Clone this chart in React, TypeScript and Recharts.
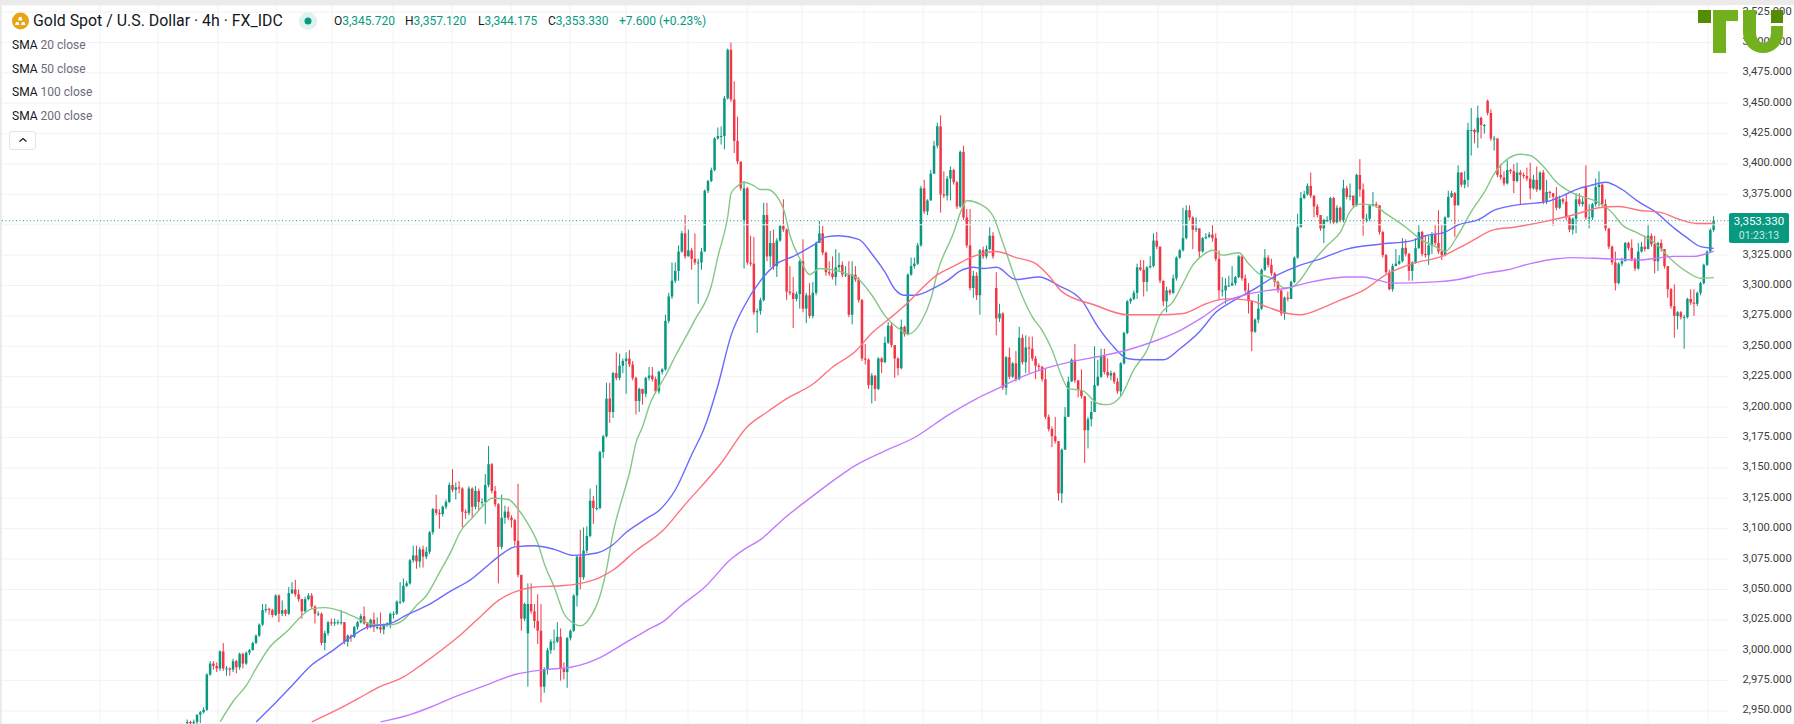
import React from "react";
import { ComposedChart, Bar, Line, XAxis, YAxis, CartesianGrid, ReferenceLine } from "recharts";

const closes = [2941,2940,2941,2947,2949,2951,2980,2989,2987,2985,2999,2985,2985,2984,2991,2986,2997,2989,2998,3000,3006,3012,3021,3033,3034,3033,3029,3045,3030,3033,3030,3047,3050,3046,3042,3032,3042,3045,3036,3030,3030,3006,3014,3023,3022,3023,3023,3023,3007,3012,3011,3019,3023,3028,3022,3019,3025,3019,3019,3017,3021,3022,3030,3030,3040,3040,3053,3055,3074,3078,3073,3083,3077,3081,3097,3116,3113,3112,3118,3122,3136,3132,3134,3133,3114,3113,3133,3118,3131,3122,3122,3136,3153,3131,3120,3085,3109,3114,3109,3107,3090,3062,3026,3038,3038,3032,3024,3016,2970,2984,3000,3007,3007,3011,2985,2982,3010,3016,3045,3077,3060,3082,3094,3123,3117,3117,3163,3176,3207,3196,3228,3224,3234,3238,3240,3235,3224,3205,3215,3211,3224,3226,3223,3213,3229,3231,3271,3291,3304,3312,3328,3343,3324,3329,3322,3319,3319,3328,3378,3386,3395,3421,3423,3423,3454,3494,3453,3419,3402,3380,3380,3319,3318,3278,3279,3288,3358,3324,3335,3316,3337,3349,3346,3295,3294,3289,3293,3320,3281,3292,3275,3294,3335,3343,3327,3311,3310,3307,3315,3317,3309,3309,3276,3309,3305,3288,3240,3239,3218,3226,3215,3240,3237,3253,3267,3251,3240,3232,3266,3260,3309,3316,3318,3333,3380,3361,3370,3392,3415,3431,3375,3374,3388,3395,3385,3365,3410,3356,3333,3298,3308,3292,3329,3324,3330,3341,3324,3273,3277,3216,3241,3225,3236,3223,3257,3237,3249,3248,3240,3234,3233,3223,3192,3182,3176,3172,3129,3165,3192,3221,3239,3222,3214,3209,3181,3190,3196,3218,3225,3242,3229,3226,3228,3221,3213,3236,3261,3287,3289,3294,3315,3313,3303,3315,3316,3337,3332,3304,3287,3296,3294,3306,3323,3329,3339,3362,3356,3346,3347,3328,3339,3340,3342,3339,3322,3296,3296,3300,3300,3302,3307,3324,3306,3296,3287,3262,3272,3281,3313,3323,3317,3310,3303,3296,3277,3290,3289,3303,3323,3348,3372,3375,3382,3374,3365,3358,3347,3354,3354,3372,3352,3364,3354,3380,3373,3374,3366,3391,3379,3355,3355,3366,3367,3366,3344,3325,3311,3297,3316,3318,3320,3331,3326,3312,3319,3331,3344,3326,3325,3333,3342,3335,3328,3325,3356,3373,3376,3366,3393,3383,3387,3428,3428,3426,3438,3432,3432,3442,3421,3421,3391,3389,3384,3395,3394,3386,3393,3391,3390,3388,3380,3387,3379,3393,3369,3377,3376,3373,3364,3371,3369,3356,3346,3355,3371,3367,3369,3356,3356,3367,3381,3383,3367,3347,3332,3319,3302,3318,3320,3335,3331,3322,3314,3328,3332,3330,3341,3334,3320,3335,3330,3316,3297,3283,3275,3278,3274,3274,3289,3286,3285,3294,3302,3317,3328,3345.72,3353.33];
const highs = [2943,2942,2943,2947,2950,2953,2981,2991,2991,2990,3000,3006,2987,2986,2993,2992,2998,2998,2999,3001,3007,3013,3022,3038,3038,3035,3034,3046,3046,3041,3034,3052,3056,3058,3050,3042,3044,3047,3047,3037,3032,3031,3016,3024,3026,3026,3025,3033,3023,3013,3013,3020,3024,3030,3036,3023,3026,3031,3027,3031,3022,3023,3031,3032,3041,3056,3059,3057,3075,3086,3086,3085,3086,3085,3098,3117,3128,3116,3119,3124,3138,3149,3138,3139,3134,3116,3135,3134,3135,3133,3125,3145,3168,3154,3135,3121,3128,3119,3118,3111,3108,3137,3062,3039,3055,3055,3038,3046,3038,2986,3002,3009,3017,3023,3018,2990,3011,3017,3046,3078,3099,3101,3102,3133,3127,3136,3164,3177,3220,3220,3229,3245,3244,3240,3245,3247,3238,3225,3216,3215,3225,3233,3233,3225,3230,3232,3276,3294,3319,3319,3333,3345,3358,3346,3331,3343,3322,3331,3379,3387,3397,3422,3430,3431,3456,3495,3500,3468,3439,3402,3386,3381,3341,3340,3281,3290,3368,3368,3345,3346,3339,3350,3371,3347,3316,3307,3295,3321,3338,3294,3302,3303,3336,3353,3349,3328,3320,3324,3330,3327,3320,3316,3320,3320,3316,3307,3289,3252,3240,3228,3226,3241,3241,3258,3270,3270,3251,3241,3272,3267,3310,3323,3323,3335,3382,3387,3371,3395,3419,3434,3440,3394,3390,3398,3396,3386,3411,3415,3363,3363,3312,3311,3330,3332,3333,3348,3344,3311,3285,3278,3242,3249,3237,3246,3266,3260,3259,3258,3258,3242,3236,3234,3232,3194,3184,3192,3172,3166,3200,3225,3240,3252,3222,3231,3209,3192,3205,3250,3239,3248,3248,3240,3230,3229,3224,3237,3262,3288,3290,3296,3318,3321,3321,3316,3324,3343,3344,3332,3304,3299,3297,3309,3324,3330,3364,3366,3366,3357,3356,3347,3340,3343,3344,3350,3343,3329,3307,3306,3308,3316,3308,3325,3325,3309,3302,3287,3273,3293,3314,3330,3325,3322,3311,3304,3296,3291,3295,3304,3324,3359,3377,3378,3384,3393,3374,3367,3358,3355,3357,3373,3373,3366,3365,3387,3382,3384,3374,3392,3404,3384,3359,3367,3377,3369,3365,3345,3326,3313,3318,3330,3325,3339,3338,3327,3320,3339,3350,3345,3341,3341,3344,3350,3362,3350,3357,3378,3378,3377,3399,3393,3394,3434,3446,3429,3448,3439,3433,3453,3445,3423,3421,3400,3394,3403,3396,3400,3401,3395,3393,3397,3401,3391,3398,3394,3395,3387,3378,3375,3381,3374,3372,3376,3357,3356,3376,3376,3372,3399,3367,3368,3388,3394,3384,3371,3347,3333,3328,3319,3323,3336,3336,3338,3323,3335,3336,3341,3350,3343,3341,3336,3338,3328,3316,3298,3301,3279,3279,3276,3290,3297,3297,3295,3303,3318,3329,3347,3357.12];
const lows = [2939,2939,2939,2939,2940,2948,2950,2979,2984,2982,2983,2983,2979,2979,2982,2981,2984,2985,2988,2996,3000,3005,3011,3020,3031,3029,3027,3028,3023,3028,3028,3029,3046,3044,3040,3026,3031,3041,3034,3022,3028,3004,3000,3012,3020,3020,3021,3021,3005,3003,3007,3010,3017,3022,3021,3017,3018,3015,3017,3014,3013,3019,3018,3026,3029,3038,3039,3052,3054,3072,3067,3068,3068,3075,3079,3095,3111,3100,3110,3116,3121,3130,3124,3129,3101,3108,3111,3109,3116,3115,3119,3104,3134,3129,3118,3055,3083,3104,3107,3101,3086,3060,3016,3024,2970,3030,3018,3005,2957,2965,2980,2997,3000,3006,2975,2976,2969,3008,3015,3036,3050,3058,3080,3093,3104,3115,3116,3158,3175,3187,3191,3222,3222,3228,3211,3233,3222,3194,3196,3202,3208,3222,3221,3211,3211,3227,3230,3269,3289,3302,3304,3327,3322,3325,3313,3317,3285,3313,3329,3376,3385,3394,3420,3416,3412,3453,3451,3409,3400,3378,3314,3317,3316,3276,3261,3276,3287,3320,3315,3313,3307,3336,3344,3288,3292,3265,3287,3281,3278,3269,3273,3273,3292,3335,3325,3308,3308,3305,3300,3312,3307,3307,3274,3268,3303,3286,3238,3235,3215,3203,3205,3214,3228,3236,3252,3249,3224,3226,3231,3258,3259,3308,3314,3317,3332,3359,3358,3371,3393,3413,3360,3372,3370,3370,3383,3363,3364,3354,3331,3296,3290,3288,3276,3322,3322,3329,3322,3259,3270,3214,3210,3223,3224,3221,3222,3235,3228,3228,3238,3223,3230,3221,3190,3180,3167,3170,3123,3121,3165,3192,3221,3220,3208,3207,3154,3166,3184,3206,3217,3224,3227,3224,3222,3219,3211,3209,3235,3260,3285,3288,3289,3312,3291,3295,3314,3315,3330,3302,3283,3278,3292,3293,3304,3322,3328,3338,3354,3330,3344,3323,3327,3338,3339,3336,3320,3288,3291,3285,3299,3300,3300,3306,3304,3294,3277,3246,3261,3269,3280,3312,3315,3308,3299,3294,3275,3272,3287,3296,3302,3322,3348,3371,3374,3372,3356,3356,3345,3335,3352,3351,3350,3351,3352,3352,3371,3370,3364,3365,3373,3341,3352,3353,3365,3364,3342,3323,3309,3296,3295,3316,3317,3319,3324,3304,3304,3318,3330,3324,3323,3317,3326,3333,3326,3321,3324,3356,3372,3340,3366,3381,3380,3381,3407,3417,3413,3421,3425,3440,3419,3411,3389,3387,3382,3383,3392,3376,3385,3367,3388,3386,3371,3379,3377,3378,3367,3367,3372,3349,3362,3363,3367,3354,3344,3342,3343,3365,3365,3354,3347,3354,3365,3365,3365,3345,3330,3317,3296,3301,3316,3322,3329,3320,3312,3313,3327,3328,3330,3332,3310,3312,3328,3314,3290,3281,3257,3264,3272,3248,3273,3284,3275,3283,3292,3301,3316,3327,3344.175];
const openGaps: Record<number, number> = { 0: 2940, 104: 3014, 170: 3354, 247: 3298, 397: 3452, 427: 3382 };

const sma20 = [[10,2941],[14,2958],[18,2971],[21,2985],[25,3002],[31,3017],[33,3023],[38,3034],[42,3035],[47,3032],[53,3025],[57,3021],[62,3021],[66,3025],[70,3037],[73,3045],[77,3064],[81,3084],[83,3096],[87,3109],[90,3118],[93,3125],[98,3124],[101,3116],[104,3104],[107,3088],[109,3071],[112,3052],[115,3030],[118,3022],[120,3020],[123,3027],[126,3045],[128,3067],[130,3097],[133,3127],[135,3146],[137,3171],[139,3184],[141,3201],[146,3226],[149,3242],[155,3272],[160,3300],[162,3324],[165,3357],[166,3376],[168,3382],[170,3385],[173,3382],[175,3379],[177,3379],[182,3363],[184,3341],[187,3322],[190,3309],[193,3314],[200,3311],[205,3305],[209,3292],[213,3275],[218,3263],[220,3260],[224,3270],[227,3289],[229,3311],[234,3344],[236,3360],[238,3370],[242,3367],[246,3357],[249,3335],[253,3304],[258,3274],[261,3263],[264,3247],[267,3225],[269,3215],[273,3214],[278,3203],[281,3202],[285,3209],[289,3231],[293,3247],[297,3276],[301,3287],[304,3302],[307,3317],[310,3325],[313,3329],[316,3325],[321,3327],[324,3318],[327,3310],[331,3306],[335,3298],[338,3300],[344,3321],[348,3333],[352,3344],[355,3361],[358,3367],[362,3366],[366,3359],[372,3348],[376,3339],[381,3332],[384,3328],[388,3342],[392,3361],[396,3377],[399,3392],[403,3404],[407,3408],[410,3407],[414,3398],[418,3385],[423,3376],[431,3368],[435,3360],[438,3350],[443,3343],[448,3335],[454,3319],[458,3311],[462,3306],[466,3306.5]];
const sma50 = [[21,2941],[27,2957],[32,2971],[38,2988],[44,2999],[50,3011],[55,3019],[62,3022],[67,3029],[74,3038],[80,3048],[87,3059],[91,3068],[95,3077],[100,3085],[106,3086],[112,3083],[118,3078],[125,3080],[130,3087],[134,3097],[140,3108],[144,3115],[149,3132],[154,3161],[158,3184],[162,3218],[166,3259],[170,3283],[175,3304],[180,3318],[185,3324],[191,3333],[195,3340],[199,3341],[205,3338],[209,3326],[213,3311],[216,3297],[219,3292],[222,3292],[228,3298],[232,3304],[236,3312],[240,3315],[243,3314],[247,3315],[253,3305],[260,3307],[266,3300],[273,3288],[278,3266],[282,3252],[287,3240],[291,3239],[298,3239],[303,3248],[309,3262],[314,3278],[319,3287],[325,3296],[333,3309],[339,3316],[346,3322],[354,3330],[364,3334],[374,3337],[378,3341],[384,3344],[388,3350],[394,3354],[399,3362],[405,3366],[415,3369],[420,3374],[425,3380],[428,3382],[433,3385],[438,3379],[443,3369],[448,3361],[454,3347],[458,3339],[462,3332],[466,3330.6]];
const sma100 = [[38,2941],[45,2950],[52,2960],[58,2969],[66,2978],[72,2989],[78,3001],[84,3014],[90,3029],[95,3041],[100,3048],[106,3052],[114,3053],[120,3055],[126,3060],[130,3066],[137,3082],[145,3098],[152,3120],[163,3154],[171,3184],[177,3196],[183,3207],[191,3219],[197,3233],[204,3246],[209,3261],[214,3272],[220,3286],[224,3297],[229,3309],[234,3316],[240,3324],[247,3328],[253,3323],[259,3318],[263,3308],[267,3295],[277,3284],[287,3276],[297,3276],[304,3277],[311,3285],[317,3289],[324,3288],[330,3282],[336,3277],[340,3276],[346,3281],[352,3288],[359,3296],[366,3309],[374,3318],[383,3324],[391,3335],[399,3346],[405,3348],[415,3353],[423,3358],[431,3364],[437,3365],[443,3362],[450,3360],[456,3354],[461,3351],[466,3351]];
const sma200 = [[59,2941],[68,2947],[75,2954],[82,2962],[90,2970],[100,2980],[109,2984],[117,2986],[126,2994],[133,3005],[140,3016],[146,3025],[150,3035],[158,3052],[166,3075],[170,3083],[175,3091],[182,3108],[191,3127],[199,3143],[204,3152],[213,3164],[222,3175],[232,3193],[241,3207],[248,3216],[254,3224],[261,3231],[271,3238],[279,3242],[287,3247],[296,3255],[303,3263],[310,3274],[317,3287],[324,3293],[330,3296],[336,3298],[340,3301],[345,3304],[354,3307],[359,3307],[364,3304],[368,3302],[381,3303],[388,3305],[396,3310],[403,3313],[410,3318],[418,3322],[423,3323],[433,3322],[443,3321],[454,3324],[460,3324],[464,3326.5],[466,3328.4]];

const priceTicks = [2950,2975,3000,3025,3050,3075,3100,3125,3150,3175,3200,3225,3250,3275,3300,3325,3375,3400,3425,3450,3475,3500,3525];
const hiddenGridPrice = 3350;
const lastPrice = 3353.33;
const smaLegend = ["20", "50", "100", "200"];
const ohlc = [["O","3,345.720",334],["H","3,357.120",405],["L","3,344.175",478],["C","3,353.330",548]] as const;

const LEAD_BLANK = 57;
const TAIL_BLANK = 4;
const UP = "#089981";
const DOWN = "#f23645";
const GRID = "#f2f2f4";
const gridX = [100,158,218,277,332,393,452,511,570,626,688,747,802,864,923,982,1041,1097,1158,1217,1292,1355,1413,1472,1532,1587,1648,1708];

const lookup = (pts: number[][]) => new Map(pts.map((p) => [p[0], p[1]]));
const m20 = lookup(sma20), m50 = lookup(sma50), m100 = lookup(sma100), m200 = lookup(sma200);

const rows: any[] = [];
for (let i = 0; i < LEAD_BLANK; i++) rows.push({ k: `a${i}` });
closes.forEach((c, i) => {
  const open = openGaps[i] ?? closes[i - 1];
  rows.push({
    k: `c${i}`, open, close: c,
    high: Math.max(highs[i], open, c), low: Math.min(lows[i], open, c),
    s20: m20.get(i), s50: m50.get(i), s100: m100.get(i), s200: m200.get(i),
  });
});
for (let i = 0; i < TAIL_BLANK; i++) rows.push({ k: `z${i}` });

function Candle(props: any) {
  const { x, y, width, height, payload } = props;
  if (payload == null || payload.close == null || !Number.isFinite(y) || !Number.isFinite(height)) return null;
  const top = Math.min(y, y + height);
  const h = Math.abs(height);
  const ppu = h / Math.max(payload.high - payload.low, 0.001);
  const at = (v: number) => top + (payload.high - v) * ppu;
  const color = payload.close >= payload.open ? UP : DOWN;
  const cx = x + width / 2;
  const bt = at(Math.max(payload.open, payload.close));
  const bb = at(Math.min(payload.open, payload.close));
  return (
    <g>
      <line x1={cx} x2={cx} y1={top} y2={top + h} stroke={color} strokeWidth={1} />
      <rect x={cx - 1.25} y={bt} width={2.5} height={Math.max(bb - bt, 1)} fill={color} />
    </g>
  );
}

const font = "Roboto, sans-serif";
const abs = (left: number, top: number, extra: any = {}) => ({ position: "absolute" as const, left, top, whiteSpace: "nowrap" as const, fontFamily: font, ...extra });

export default function App() {
  return (
    <div style={{ position: "absolute", left: 0, top: 0, width: 1794, height: 724, background: "#fff", overflow: "hidden" }}>
      <div style={{ position: "absolute", left: -1, top: 0 }}>
        <ComposedChart width={1795} height={724} data={rows} margin={{ top: 5, right: 0, bottom: 0, left: 0 }} barCategoryGap={0} barGap={0}>
          <CartesianGrid stroke={GRID} strokeWidth={1} verticalPoints={gridX.map((v) => v + 1)} />
          <ReferenceLine y={hiddenGridPrice} stroke={GRID} strokeWidth={1} />
          <XAxis dataKey="k" hide interval={0} />
          <YAxis orientation="right" width={65.5} domain={[2939.3, 3530.8]} allowDataOverflow ticks={priceTicks} interval={0} axisLine={false} tickLine={false} tickMargin={8}
            tick={{ fill: "#3c3c3c", fontSize: 11.2, fontFamily: font, dy: -1.5 }}
            tickFormatter={(v: number) => v.toLocaleString("en-US", { minimumFractionDigits: 3, maximumFractionDigits: 3 })} />
          <Bar dataKey={(r: any) => (r.close == null ? null : [r.low, r.high])} shape={<Candle />} isAnimationActive={false} />
          <ReferenceLine y={lastPrice} stroke={UP} strokeDasharray="1 2.5" strokeWidth={1} />
          <Line type="monotone" dataKey="s20" stroke="#85c785" strokeWidth={1.4} dot={false} connectNulls isAnimationActive={false} />
          <Line type="monotone" dataKey="s50" stroke="#6a6aff" strokeWidth={1.4} dot={false} connectNulls isAnimationActive={false} />
          <Line type="monotone" dataKey="s100" stroke="#ff727f" strokeWidth={1.4} dot={false} connectNulls isAnimationActive={false} />
          <Line type="monotone" dataKey="s200" stroke="#c27bff" strokeWidth={1.4} dot={false} connectNulls isAnimationActive={false} />
        </ComposedChart>
      </div>

      <div style={{ position: "absolute", left: 0, top: 0, width: 1794, height: 5, background: "#ebebeb" }} />
      <div style={{ position: "absolute", left: 0, top: 0, width: 2, height: 724, background: "#ebebeb" }} />

      <svg style={{ position: "absolute", left: 0, top: 0 }} width={320} height={40}>
        <circle cx={20.5} cy={21} r={8.5} fill="#e8a317" />
        <path d="M15 25 h4.5 l-1 -3 h-2.5 z M21 25 h4.5 l-1 -3 h-2.5 z M18 20.5 h4.5 l-1 -3.5 h-2.5 z" fill="#fff" />
        <circle cx={308} cy={21} r={9} fill="#def2ee" />
        <circle cx={308} cy={21} r={3.5} fill={UP} />
      </svg>
      <div style={abs(33, 12, { fontSize: 15.9, lineHeight: "18px", color: "#131722" })}>Gold Spot / U.S. Dollar · 4h · FX_IDC</div>
      {ohlc.map(([k, v, left]) => (
        <div key={k} style={abs(left, 14, { fontSize: 12, lineHeight: "15px", color: "#131722" })}>
          {k}<span style={{ color: UP }}>{v}</span>
        </div>
      ))}
      <div style={abs(619, 14, { fontSize: 12, lineHeight: "15px", color: UP })}>+7.600 (+0.23%)</div>
      {smaLegend.map((n, i) => (
        <div key={n} style={abs(12, 38 + i * 23.7, { fontSize: 12, lineHeight: "15px", color: "#6a6d78" })}>
          <span style={{ color: "#131722" }}>SMA</span> {n} close
        </div>
      ))}
      <div style={{ position: "absolute", left: 9, top: 131, width: 27, height: 19, border: "1px solid #e0e3eb", borderRadius: 3, background: "#fff", boxSizing: "border-box" }} />
      <svg style={{ position: "absolute", left: 18, top: 136 }} width={10} height={8}>
        <path d="M1.5 5.5 L5 2.5 L8.5 5.5" fill="none" stroke="#131722" strokeWidth={1.2} />
      </svg>

      <div style={{ position: "absolute", left: 1729, top: 213, width: 60, height: 30, background: UP, borderRadius: 2, fontFamily: font, textAlign: "center", color: "#fff" }}>
        <div style={{ fontSize: 11.5, lineHeight: "15px", marginTop: 1 }}>{"3,353.330"}</div>
        <div style={{ fontSize: 10.5, lineHeight: "13px", color: "#c9ece6" }}>01:23:13</div>
      </div>

      <svg style={{ position: "absolute", left: 0, top: 0 }} width={1794} height={60}>
        <rect x={1698} y={10} width={13} height={13} fill="#558b00" />
        <path d="M1713 10 H1738 V21 H1726 V53 H1713 Z" fill="#72b01d" />
        <path d="M1743 10 H1756 V33 A7.5 10 0 0 0 1771 33 V26 H1783 V33 A20 20 0 0 1 1743 33 Z" fill="#72b01d" />
        <rect x={1771} y={10} width={12} height={13} fill="#558b00" />
      </svg>
    </div>
  );
}
